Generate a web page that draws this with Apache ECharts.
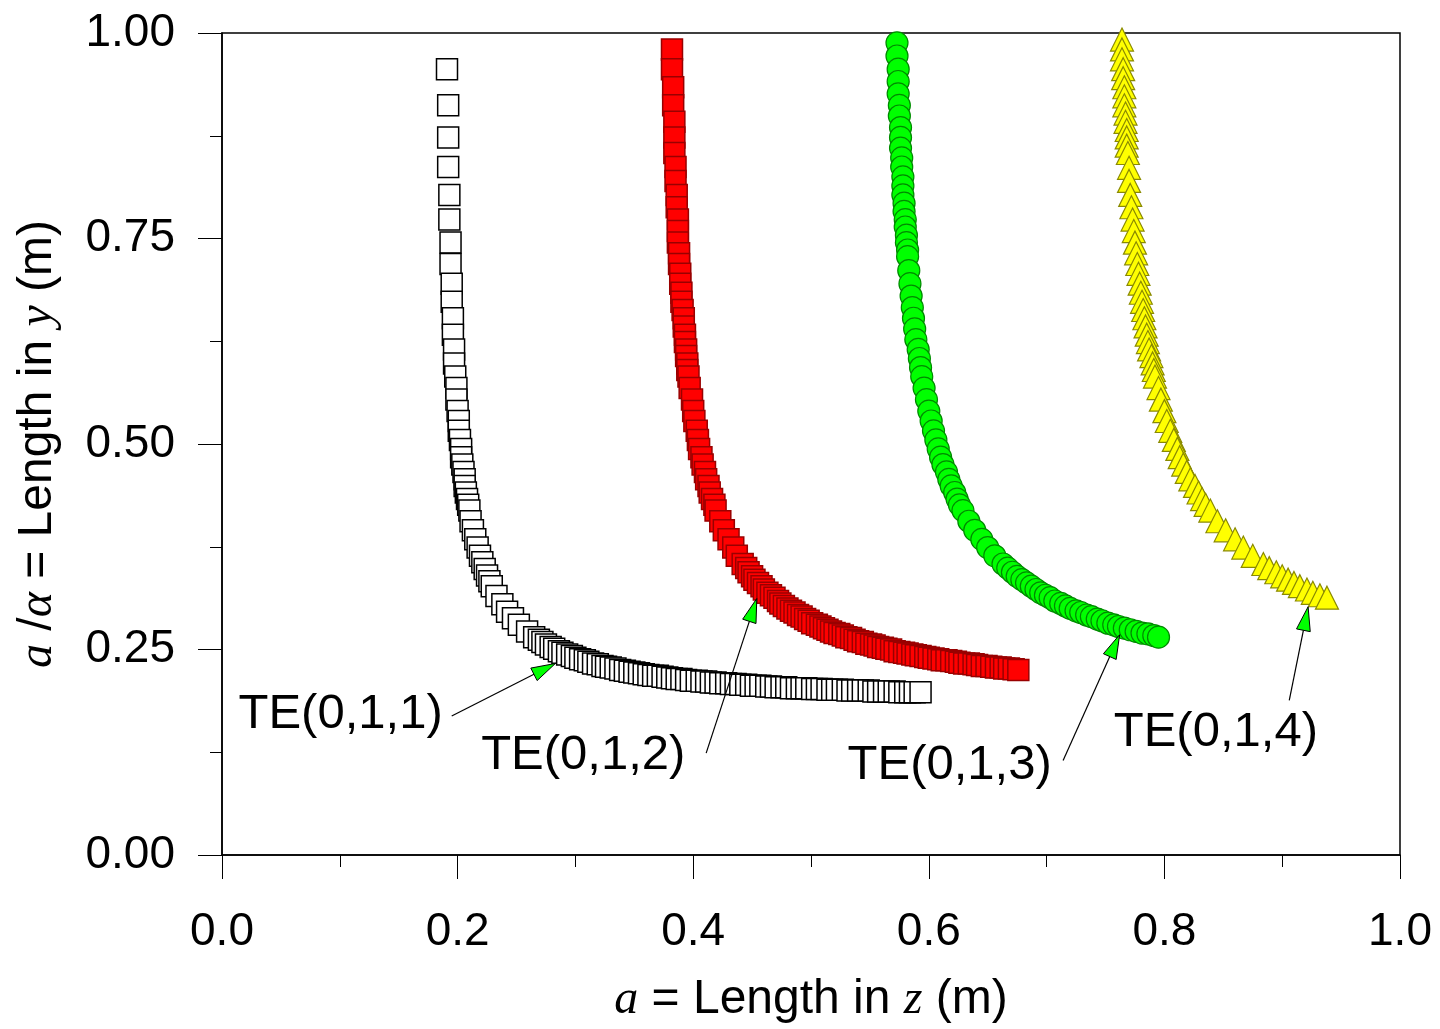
<!DOCTYPE html>
<html>
<head>
<meta charset="utf-8">
<title>TE(0,1,p) cavity curves</title>
<script src="https://cdn.jsdelivr.net/npm/echarts@6.0.0/dist/echarts.min.js"></script>
<style>
  html, body { margin: 0; padding: 0; background: #fff; }
  #chart { width: 1440px; height: 1029px; }
</style>
</head>
<body>
<div id="chart"></div>
<script>
// a = length in z (x), a/alpha = length in y (y)
const te011X = [0.191,0.192,0.192,0.192,0.193,0.193,0.194,0.194,0.195,0.195,0.196,0.196,0.197,0.197,0.198,0.199,0.199,0.200,0.201,0.201,0.202,0.203,0.203,0.204,0.205,0.206,0.206,0.207,0.208,0.209,0.210,
  0.211,0.213,0.215,0.217,0.219,0.221,0.223,0.225,0.227,0.229,
  0.233,0.238,0.242,0.247,0.252,0.259,
  0.265,0.269,0.272,0.275,0.279,0.282,0.286,0.289,0.293,0.297,
  0.300,0.304,0.308,0.311,0.315,0.319,0.323,0.326,0.330,0.334,
  0.338,0.342,0.346,0.350,0.354,0.358,0.362,0.366,0.370,0.374,
  0.378,0.382,0.386,0.390,0.394,0.398,0.403,0.407,0.411,0.415,
  0.419,0.423,0.428,0.432,0.436,0.440,0.445,0.449,0.453,0.457,
  0.462,0.466,0.470,0.475,0.479,0.483,0.488,0.492,0.496,0.501,
  0.505,0.509,0.514,0.518,0.522,0.527,0.531,0.535,0.540,0.544,
  0.549,0.553,0.557,0.562,0.566,0.571,0.575,0.580,0.584,0.588,
  0.593];
const te011Y = [0.956,0.912,0.873,0.837,0.803,0.773,0.745,0.719,0.695,0.673,0.653,0.633,0.615,0.598,0.582,0.568,0.554,0.540,0.528,0.516,0.505,0.494,0.484,0.475,0.466,0.457,0.449,0.441,0.433,0.426,0.419,
  0.406,0.395,0.384,0.374,0.364,0.356,0.348,0.340,0.333,0.327,
  0.315,0.305,0.296,0.288,0.280,0.272,
  0.265,0.262,0.259,0.256,0.253,0.251,0.248,0.246,0.244,0.242,
  0.240,0.238,0.237,0.235,0.233,0.232,0.230,0.229,0.228,0.227,
  0.225,0.224,0.223,0.222,0.221,0.220,0.219,0.218,0.218,0.217,
  0.216,0.215,0.214,0.214,0.213,0.212,0.212,0.211,0.211,0.210,
  0.210,0.209,0.209,0.208,0.208,0.207,0.207,0.206,0.206,0.206,
  0.205,0.205,0.204,0.204,0.204,0.203,0.203,0.203,0.203,0.202,
  0.202,0.202,0.201,0.201,0.201,0.201,0.200,0.200,0.200,0.200,
  0.200,0.199,0.199,0.199,0.199,0.199,0.198,0.198,0.198,0.198,
  0.198];

const te012X = [0.382,0.382,0.383,0.383,0.384,0.384,0.384,0.385,0.385,0.386,0.386,0.387,0.387,0.387,0.388,0.388,0.389,0.389,0.390,0.390,0.391,0.392,
  0.392,0.393,0.393,0.394,0.394,0.395,0.395,0.396,0.397,0.399,0.400,0.401,0.403,0.404,
  0.405,0.407,0.408,0.410,0.411,0.413,0.414,0.416,0.418,0.419,
  0.423,0.426,0.430,0.434,0.437,
  0.442,0.445,0.447,0.450,0.452,0.455,0.458,0.460,0.463,0.466,
  0.469,0.472,0.474,0.477,0.480,0.483,0.486,0.489,0.492,0.495,
  0.498,0.501,0.505,0.508,0.511,0.514,0.517,0.520,0.524,0.527,
  0.530,0.534,0.537,0.540,0.544,0.547,0.551,0.554,0.557,0.561,
  0.564,0.568,0.571,0.575,0.579,0.582,0.586,0.589,0.593,0.597,
  0.600,0.604,0.608,0.611,0.615,0.619,0.623,0.626,0.630,0.634,
  0.638,0.641,0.645,0.649,0.653,0.657,0.661,0.664,0.668,0.672,
  0.676];
const te012Y = [0.980,0.956,0.934,0.912,0.892,0.873,0.854,0.837,0.820,0.803,0.788,0.773,0.759,0.745,0.732,0.719,0.707,0.695,0.684,0.673,0.663,0.653,
  0.643,0.633,0.624,0.615,0.607,0.598,0.590,0.582,0.568,0.554,0.540,0.528,0.516,0.505,
  0.494,0.484,0.475,0.466,0.457,0.449,0.441,0.433,0.426,0.419,
  0.406,0.395,0.384,0.374,0.364,
  0.354,0.349,0.344,0.339,0.335,0.331,0.327,0.323,0.319,0.316,
  0.313,0.309,0.306,0.303,0.300,0.297,0.295,0.292,0.290,0.287,
  0.285,0.282,0.280,0.278,0.276,0.274,0.272,0.270,0.269,0.267,
  0.265,0.264,0.262,0.260,0.259,0.257,0.256,0.255,0.253,0.252,
  0.251,0.250,0.248,0.247,0.246,0.245,0.244,0.243,0.242,0.241,
  0.240,0.239,0.238,0.237,0.237,0.236,0.235,0.234,0.233,0.233,
  0.232,0.231,0.230,0.230,0.229,0.228,0.228,0.227,0.227,0.226,
  0.225];

const te013X = [0.573,0.573,0.574,0.574,0.574,0.575,0.575,0.576,0.576,0.576,0.577,0.577,0.578,0.578,0.578,0.579,0.579,0.580,0.580,0.581,0.581,0.582,0.582,
  0.583,0.584,0.585,0.586,0.587,0.588,0.589,0.591,0.592,0.593,
  0.594,0.596,0.598,0.600,0.602,0.604,0.606,0.608,0.610,0.612,0.615,0.617,0.619,0.622,0.624,0.626,0.629,
  0.634,0.639,0.645,0.650,0.656,
  0.663,0.667,0.671,0.675,0.679,0.683,0.687,0.691,0.695,0.699,
  0.703,0.707,0.712,0.716,0.720,0.725,0.729,0.734,0.738,0.743,
  0.747,0.752,0.757,0.761,0.766,0.771,0.776,0.781,0.786,0.791,
  0.795];
const te013Y = [0.988,0.972,0.956,0.941,0.926,0.912,0.899,0.885,0.873,0.860,0.848,0.837,0.825,0.814,0.803,0.793,0.783,0.773,0.764,0.754,0.745,0.736,0.728,
  0.711,0.695,0.680,0.666,0.653,0.640,0.627,0.615,0.604,0.593,
  0.582,0.568,0.554,0.540,0.528,0.516,0.505,0.494,0.484,0.475,0.466,0.457,0.449,0.441,0.433,0.426,0.419,
  0.406,0.395,0.384,0.374,0.364,
  0.354,0.349,0.344,0.339,0.335,0.331,0.327,0.323,0.319,0.316,
  0.313,0.309,0.306,0.303,0.300,0.297,0.295,0.292,0.290,0.287,
  0.285,0.282,0.280,0.278,0.276,0.274,0.272,0.270,0.269,0.267,
  0.265];

const te014X = [0.764,0.764,0.764,0.765,0.765,0.766,0.766,0.766,0.767,0.767,0.768,0.768,0.768,0.769,
  0.770,0.770,0.771,0.772,0.773,0.774,0.775,0.776,0.777,0.778,0.779,0.780,0.781,0.782,0.783,
  0.784,0.785,0.786,0.787,0.789,0.790,0.791,0.792,0.795,0.797,0.800,0.802,0.805,0.808,0.811,0.813,0.816,0.819,0.822,0.826,0.829,0.832,0.835,0.839,
  0.845,0.852,0.860,0.867,0.875,
  0.884,0.889,0.895,0.900,0.905,0.910,0.915,0.921,0.926,0.932,0.938];
const te014Y = [0.992,0.980,0.968,0.956,0.945,0.934,0.923,0.912,0.902,0.892,0.882,0.873,0.863,0.854,
  0.836,0.820,0.803,0.788,0.773,0.759,0.745,0.732,0.719,0.707,0.695,0.684,0.673,0.663,0.653,
  0.643,0.633,0.624,0.615,0.607,0.598,0.590,0.582,0.568,0.554,0.540,0.528,0.516,0.505,0.494,0.484,0.475,0.466,0.457,0.449,0.441,0.433,0.426,0.419,
  0.406,0.395,0.384,0.374,0.364,
  0.354,0.349,0.344,0.339,0.335,0.331,0.327,0.323,0.319,0.316,0.313];

// mode labels with their arrows (data coordinates)
const modeNames = ['TE(0,1,1)', 'TE(0,1,2)', 'TE(0,1,3)', 'TE(0,1,4)'];
const labelAt = [[0.014, 0.171], [0.220, 0.121], [0.531, 0.109], [0.757, 0.149]];
const arrowFrom = [[0.195, 0.169], [0.411, 0.124], [0.714, 0.115], [0.906, 0.188]];
const arrowTip = [[0.283, 0.233], [0.454, 0.312], [0.762, 0.268], [0.922, 0.302]];

const pairs = (xs, ys) => xs.map((x, i) => [x, ys[i]]);

const chart = echarts.init(document.getElementById('chart'));

const font = 'Liberation Sans';
const italic = { fontFamily: 'Liberation Serif', fontStyle: 'italic', fontSize: 48 };

const axisCommon = {
  type: 'value',
  min: 0,
  max: 1,
  axisLine: { show: true, lineStyle: { color: '#000', width: 1.5 } },
  axisTick: { show: true, inside: false, length: 24, lineStyle: { color: '#000', width: 1 } },
  minorTick: { show: true, splitNumber: 2, length: 12, lineStyle: { color: '#000', width: 1 } },
  splitLine: { show: false },
  minorSplitLine: { show: false },
  nameLocation: 'middle',
  nameTextStyle: { fontSize: 48, fontFamily: font, color: '#000', rich: { i: italic } }
};

const option = {
  animation: false,
  backgroundColor: '#fff',
  grid: {
    left: 222, right: 40, top: 33, bottom: 172,
    show: true, borderColor: '#000', borderWidth: 1.5
  },
  xAxis: Object.assign({}, axisCommon, {
    interval: 0.2,
    name: '{i|a} = Length in {i|z} (m)',
    nameGap: 121,
    axisLabel: { fontSize: 46, fontFamily: font, color: '#000', margin: 54,
      formatter: v => v.toFixed(1) }
  }),
  yAxis: Object.assign({}, axisCommon, {
    interval: 0.25,
    name: '{i|a} /{i|α} = Length in {i|y} (m)',
    nameGap: 160,
    axisLabel: { fontSize: 46, fontFamily: font, color: '#000', margin: 47,
      formatter: v => v.toFixed(2) }
  }),
  series: [
    {
      name: 'TE(0,1,1)', type: 'scatter', symbol: 'rect', symbolSize: 21, silent: true,
      itemStyle: { color: '#fff', borderColor: '#000', borderWidth: 1.5, opacity: 1 },
      data: pairs(te011X, te011Y)
    },
    {
      name: 'TE(0,1,2)', type: 'scatter', symbol: 'rect', symbolSize: 21, silent: true,
      itemStyle: { color: '#ff0000', borderColor: '#990000', borderWidth: 1.5, opacity: 1 },
      data: pairs(te012X, te012Y)
    },
    {
      name: 'TE(0,1,3)', type: 'scatter', symbol: 'circle', symbolSize: 22, silent: true,
      itemStyle: { color: '#00ff00', borderColor: '#008a00', borderWidth: 1.2, opacity: 1 },
      data: pairs(te013X, te013Y)
    },
    {
      name: 'TE(0,1,4)', type: 'scatter', symbol: 'triangle', symbolSize: 23, silent: true,
      itemStyle: { color: '#ffff00', borderColor: '#8a8a00', borderWidth: 1.2, opacity: 1 },
      data: pairs(te014X, te014Y)
    }
  ]
};

chart.setOption(option);

// labels and arrows, placed through the grid's own scale
const headLen = 24;
const headHalf = 7;
const graphics = [];
modeNames.forEach((name, i) => {
  const p = chart.convertToPixel({ gridIndex: 0 }, labelAt[i]);
  const s = chart.convertToPixel({ gridIndex: 0 }, arrowFrom[i]);
  const t = chart.convertToPixel({ gridIndex: 0 }, arrowTip[i]);
  const dx = t[0] - s[0], dy = t[1] - s[1];
  const len = Math.hypot(dx, dy);
  const ux = dx / len, uy = dy / len;
  const bx = t[0] - ux * headLen, by = t[1] - uy * headLen;
  graphics.push({
    type: 'text', z: 100, x: p[0], y: p[1],
    style: { text: name, fontSize: 49, fontFamily: font, fill: '#000', align: 'left', verticalAlign: 'middle' }
  });
  graphics.push({
    type: 'line', z: 100,
    shape: { x1: s[0], y1: s[1], x2: bx, y2: by },
    style: { stroke: '#000', lineWidth: 1.2 }
  });
  graphics.push({
    type: 'polygon', z: 101,
    shape: { points: [[t[0], t[1]], [bx - uy * headHalf, by + ux * headHalf], [bx + uy * headHalf, by - ux * headHalf]] },
    style: { fill: '#00ff00', stroke: '#000', lineWidth: 1 }
  });
});
chart.setOption({ graphic: graphics });
</script>
</body>
</html>
